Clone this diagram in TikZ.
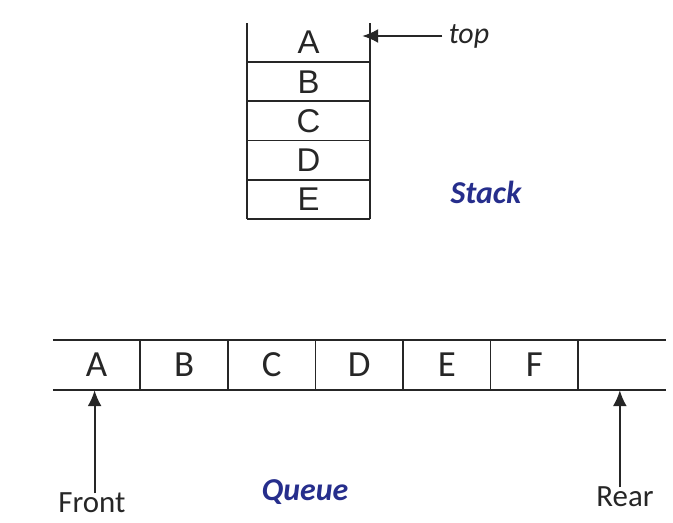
\documentclass[tikz,border=0pt]{standalone}
\usepackage{fontspec}
\setmainfont{Carlito}
\newfontfamily\arialfont{Liberation Sans}
\usepackage{xcolor}
\usepackage{tikz}
\usetikzlibrary{positioning,arrows.meta}
\definecolor{labelblue}{RGB}{38,46,140}
\tikzset{
    stackcell/.style={minimum width=123bp, minimum height=38.75bp, inner sep=0pt,
        text=black!85, font=\arialfont\fontsize{33}{33}\selectfont},
    queuecell/.style={minimum width=87.14bp, minimum height=50bp, inner sep=0pt,
        text=black!85, font=\fontsize{37}{37}\selectfont},
    cellline/.style={line width=1.9bp, black!85},
    ptr/.style={-{Latex[length=16bp,width=14bp]}, line width=1.9bp, black!85},
    plainlbl/.style={text=black!85, font=\fontsize{31}{31}\selectfont},
    titlelbl/.style={text=labelblue, font=\bfseries\itshape\fontsize{32}{32}\selectfont}
}

\begin{document}
\begin{tikzpicture}[x=1bp, y=-1bp]
    \useasboundingbox (0,0) rectangle (673,523);

    % stack
    \node[stackcell] (s1) at (308.5, 42.6) {A};
    \node[stackcell, below=0pt of s1] (s2) {B};
    \node[stackcell, below=0pt of s2] (s3) {C};
    \node[stackcell, below=0pt of s3] (s4) {D};
    \node[stackcell, below=0pt of s4] (s5) {E};
    \draw[cellline] (s1.north west) -- (s5.south west);
    \draw[cellline] (s1.north east) -- (s5.south east);
    \foreach \i in {1,...,5}
        \draw[cellline] (s\i.south west) -- (s\i.south east);

    \node[plainlbl, font=\itshape\fontsize{30}{30}\selectfont] (toplbl) at (469, 36) {top};
    \draw[ptr] ([xshift=-3bp]toplbl.west) -- ([xshift=-8bp]s1.east |- toplbl.west); % top pointer
    \node[titlelbl] (stacklbl) at (486, 192) {Stack};

    % queue
    \node[queuecell] (q1) at (96.6, 365) {A};
    \node[queuecell, right=0pt of q1] (q2) {B};
    \node[queuecell, right=0pt of q2] (q3) {C};
    \node[queuecell, right=0pt of q3] (q4) {D};
    \node[queuecell, right=0pt of q4] (q5) {E};
    \node[queuecell, right=0pt of q5] (q6) {F};
    \node[queuecell, right=0pt of q6] (q7) {};
    \draw[cellline] (q1.north west) -- (q7.north east);
    \draw[cellline] (q1.south west) -- (q7.south east);
    \foreach \i in {1,...,6}
        \draw[cellline] (q\i.north east) -- (q\i.south east);

    \node[plainlbl] (front) at (92, 503) {Front};
    \node[plainlbl] (rear) at (625, 497) {Rear};
    \draw[ptr] ([xshift=-2bp,yshift=-4bp]q1.south |- front.north) -- ([xshift=-2bp]q1.south); % front pointer
    \draw[ptr] ([xshift=-2bp,yshift=-4bp]q7.south |- rear.north) -- ([xshift=-2bp]q7.south);  % rear pointer
    \node[titlelbl] (queuelbl) at (305, 492) {Queue};
\end{tikzpicture}
\end{document}
